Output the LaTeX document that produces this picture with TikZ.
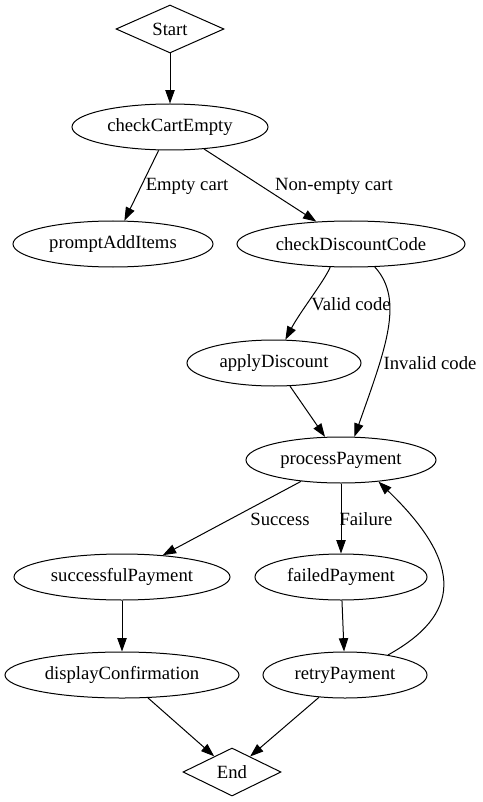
\documentclass[tikz,border=0pt]{standalone}
\usepackage{fontspec}
\setmainfont{Liberation Serif}
\usetikzlibrary{shapes.geometric,arrows.meta}

\begin{document}
\begin{tikzpicture}[x=0.75pt,y=0.75pt,
  every node/.style={inner sep=0pt,font=\fontsize{14}{16}\selectfont},
  state/.style={draw,ellipse,line width=0.75pt,minimum height=34.5pt},
  term/.style={draw,diamond,line width=0.75pt,minimum height=36pt},
  flow/.style={-{Triangle[length=10pt,width=7pt]},line width=0.75pt}]
\useasboundingbox (0,0) rectangle (482,-802);
\node [term,minimum width=81pt] (start) at (170,-29) {Start};
\node [state,minimum width=147pt] (cce) at (170,-127) {checkCartEmpty};
\node [state,minimum width=150pt] (pai) at (113,-244) {promptAddItems};
\node [state,minimum width=171pt] (cdc) at (351,-244) {checkDiscountCode};
\node [state,minimum width=130.5pt] (ad) at (274,-363) {applyDiscount};
\node [state,minimum width=142.5pt] (pp) at (341,-460) {processPayment};
\node [state,minimum width=162pt] (sp) at (122,-577) {successfulPayment};
\node [state,minimum width=129pt] (fp) at (341,-577) {failedPayment};
\node [state,minimum width=175.5pt] (dc) at (122,-675) {displayConfirmation};
\node [state,minimum width=123pt] (rp) at (345,-675) {retryPayment};
\node [term,minimum width=73.5pt] (end) at (232,-772) {End};
\draw [flow] (start) -- (cce);
\draw [flow] (cce) -- (pai);
\node (lempty) at (187,-186) {Empty cart};
\draw [flow] (cce) -- (cdc);
\node (lnonempty) at (334,-186) {Non-empty cart};
\draw [flow] (cdc.228) .. controls (325,-280) and (300,-312) .. (ad.64);
\node (lvalid) at (351,-304) {Valid code};
\draw [flow] (cdc.-44) .. controls (405,-300) and (385,-350) .. (pp.60);
\node (linvalid) at (430,-363) {Invalid code};
\draw [flow] (ad) -- (pp);
\draw [flow] (pp) -- (sp);
\node (lsuccess) at (280,-519) {Success};
\draw [flow] (pp) -- (fp);
\node (lfailure) at (366,-519) {Failure};
\draw [flow] (sp) -- (dc);
\draw [flow] (fp) -- (rp);
\draw [flow] (rp.25) .. controls (460,-615) and (465,-565) .. (pp.-30);
\draw [flow] (dc) -- (end);
\draw [flow] (rp) -- (end);
\end{tikzpicture}
\end{document}
